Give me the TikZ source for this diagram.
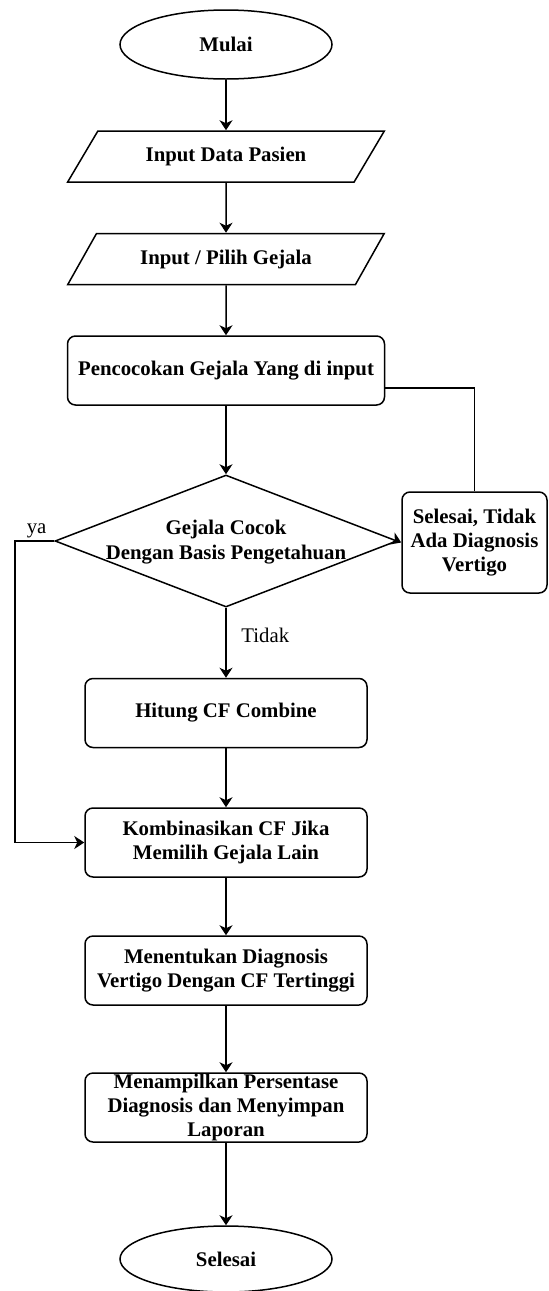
\documentclass[tikz,border=0pt]{standalone}
\usepackage{fontspec}
\setmainfont{Liberation Serif}
\usetikzlibrary{shapes.geometric,arrows.meta}

\begin{document}
\begin{tikzpicture}[x = .5pt, y = -.5pt, line width = .75pt,
  every node/.style = {font = \fontsize{10.4}{12.2}\selectfont},
  tebal/.style = {font = \fontsize{10.4}{12.2}\selectfont\bfseries},
  terminal/.style = {draw, ellipse, tebal, minimum width = 106pt, minimum height = 34.5pt},
  masukan/.style = {draw, trapezium, tebal, trapezium left angle = 57.5, trapezium right angle = 122.5,
    trapezium stretches = true, minimum width = 158.5pt, minimum height = 25.5pt},
  proses/.style = {draw, rectangle, rounded corners = 4pt, tebal, align = center,
    minimum width = 141pt, minimum height = 34.5pt, inner ysep = 0pt},
  keputusan/.style = {draw, diamond, minimum width = 171pt, minimum height = 66pt, inner sep = 0pt},
  panah/.style = {-{Stealth[length = 5pt, width = 6.5pt, inset = 1.5pt]}}]
\useasboundingbox (0,0) rectangle (548,1291);
\node [terminal] (mulai) at (226,44.5) {Mulai};
\node [masukan] (pasien) at (226,156.5) {Input Data Pasien};
\node [masukan] (gejala) at (226,259) {Input / Pilih Gejala};
\node [proses, minimum width = 158.5pt] (cocokkan) at (226,370.5) {Pencocokan Gejala Yang di input};
\node [keputusan] (cek) at (226,541) {};
\node [tebal, align = center] (cektxt) at (226,542) {Gejala Cocok\\Dengan Basis Pengetahuan};
\node [proses, minimum width = 72.5pt, minimum height = 50.5pt, inner xsep = 2pt] (gagal) at (474.5,542.5) {Selesai, Tidak\\Ada Diagnosis\\Vertigo};
\node [proses] (hitung) at (226,713) {Hitung CF Combine};
\node [proses] (kombinasi) at (226,842.5) {Kombinasikan CF Jika\\Memilih Gejala Lain};
\node [proses] (tentukan) at (226,970.5) {Menentukan Diagnosis\\Vertigo Dengan CF Tertinggi};
\node [proses] (tampil) at (226,1107.5) {Menampilkan Persentase\\Diagnosis dan Menyimpan\\Laporan};
\node [terminal, minimum height = 33pt] (selesai) at (226,1259) {Selesai};
\coordinate (belok) at (15,541);
\draw [panah] (mulai) -- (pasien);
\draw [panah] (pasien) -- (gejala);
\draw [panah] (gejala) -- (cocokkan);
\draw [panah] (cocokkan) -- (cek);
\draw ([yshift = -8.75pt]cocokkan.east) -| (gagal.north);
\draw [panah] (cek.east) -- (gagal.west);
\draw [panah] (cek.south) -- node [right = 4pt, pos = .4] {Tidak} (hitung.north);
\draw [panah] (cek.west) -- node [above, inner sep = 1pt, pos = .45] {ya} (belok) |- (kombinasi.west);
\draw [panah] (hitung) -- (kombinasi);
\draw [panah] (kombinasi) -- (tentukan);
\draw [panah] (tentukan) -- (tampil);
\draw [panah] (tampil) -- (selesai);
\end{tikzpicture}
\end{document}
